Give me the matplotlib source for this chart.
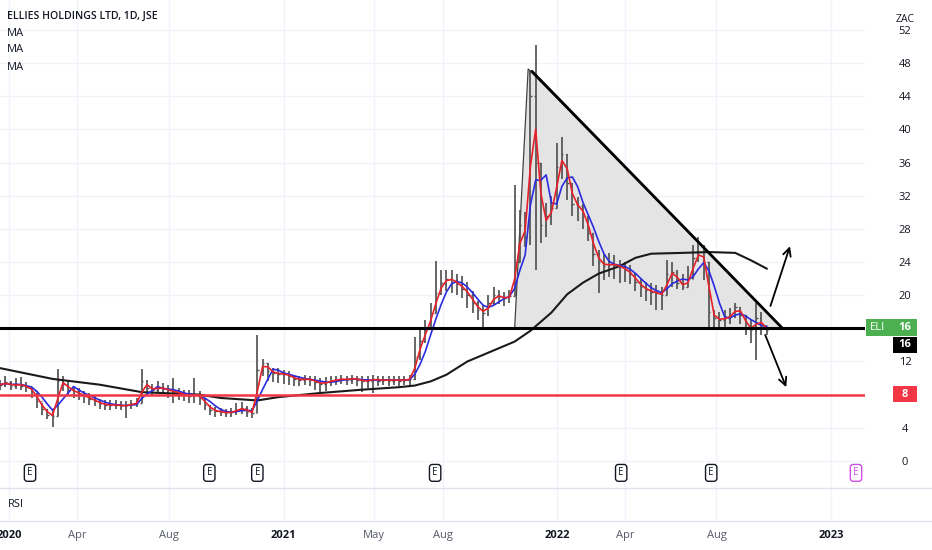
import matplotlib
matplotlib.use("Agg")
import matplotlib.pyplot as plt
import matplotlib.dates as mdates
import matplotlib.transforms as mtransforms
from matplotlib.patches import Rectangle, Polygon
from matplotlib.lines import Line2D
import pandas as pd

plt.rcParams['font.family'] = ['Open Sans', 'DejaVu Sans']

# weekly bars, first bar 2019-12-20
start = "2019-12-20"
close = [
    9.2, 9.5, 9.0, 9.3, 9.1, 8.9, 8.4, 7.2, 6.3, 5.6,
    5.4, 9.6, 9.3, 8.6, 8.4, 8.0, 7.8, 7.5, 7.2, 6.9,
    6.8, 6.7, 6.8, 6.6, 6.7, 6.9, 7.0, 9.6, 8.8, 8.6,
    8.9, 8.7, 8.5, 8.3, 8.2, 7.9, 7.8, 8.1, 7.6, 6.8,
    6.2, 6.0, 5.9, 5.8, 5.9, 6.2, 6.4, 5.9, 5.8, 11.0,
    11.8, 10.9, 10.6, 10.5, 10.5, 10.2, 9.9, 9.8, 9.9, 9.8,
    9.5, 9.3, 9.5, 9.7, 9.8, 9.9, 9.8, 10.0, 9.8, 9.6,
    9.7, 9.9, 9.7, 9.8, 9.7, 9.8, 9.7, 9.8, 9.9, 12.5,
    14.5, 16.0, 17.8, 20.2, 21.5, 22.0, 21.8, 21.3, 20.8, 20.0,
    19.0, 18.2, 17.9, 19.0, 20.0, 19.8, 19.6, 19.9, 24.0, 28.5,
    27.0, 44.0, 36.0, 28.5, 29.5, 30.5, 35.5, 37.0, 33.5, 31.0,
    30.8, 29.5, 27.5, 25.0, 24.0, 23.5, 23.8, 23.6, 23.4, 23.0,
    22.5, 21.6, 21.0, 20.6, 20.4, 20.2, 20.0, 22.5, 22.8, 21.5,
    21.0, 22.0, 24.5, 25.2, 24.0, 18.0, 17.2, 17.0, 17.3, 17.5,
    18.6, 17.6, 16.2, 15.8, 17.2, 16.2, 15.8]
high = [
    9.8, 10.2, 9.6, 10.0, 10.1, 9.5, 8.9, 8.2, 7.0, 6.3,
    6.0, 11.1, 10.2, 9.6, 9.0, 8.8, 8.4, 8.2, 7.8, 7.5,
    7.4, 7.3, 7.3, 7.2, 7.2, 7.4, 7.6, 11.1, 9.8, 9.3,
    9.6, 9.4, 9.2, 10.0, 8.8, 8.6, 8.5, 10.0, 8.4, 7.6,
    6.8, 6.5, 6.4, 6.3, 6.4, 7.0, 7.1, 6.6, 6.4, 15.2,
    12.3, 11.8, 11.2, 11.2, 11.0, 10.8, 10.4, 10.3, 10.4, 10.3,
    10.2, 10.0, 10.1, 10.2, 10.3, 10.4, 10.3, 10.4, 10.3, 10.2,
    10.3, 10.4, 10.2, 10.3, 10.2, 10.3, 10.2, 10.3, 10.4, 15.0,
    16.2, 17.0, 19.0, 24.1, 23.0, 23.0, 23.0, 22.6, 22.3, 21.6,
    20.5, 19.3, 18.8, 20.0, 21.0, 20.6, 20.4, 20.6, 33.3, 30.3,
    30.0, 47.0, 50.2, 36.0, 31.1, 32.0, 38.4, 39.1, 37.0, 33.5,
    31.8, 31.0, 29.5, 27.5, 25.5, 25.0, 25.1, 24.8, 24.2, 24.0,
    23.6, 22.7, 22.0, 21.6, 21.5, 21.2, 21.0, 24.2, 24.0, 23.0,
    22.5, 23.5, 26.0, 27.0, 26.1, 24.0, 18.2, 18.0, 18.2, 18.5,
    19.0, 18.6, 17.6, 17.0, 19.0, 18.0, 16.2]
low = [
    8.6, 8.9, 8.5, 8.7, 8.5, 8.3, 7.6, 6.4, 5.6, 5.1,
    4.1, 5.4, 8.4, 7.9, 7.6, 7.4, 7.0, 6.8, 6.6, 6.3,
    6.2, 6.2, 6.3, 6.1, 5.2, 6.3, 6.5, 7.0, 8.0, 7.9,
    8.3, 8.1, 7.6, 7.0, 7.4, 7.2, 7.0, 7.0, 6.8, 6.2,
    5.6, 5.3, 5.4, 5.3, 5.3, 5.6, 5.7, 5.3, 5.2, 5.8,
    10.2, 9.6, 9.5, 9.4, 9.3, 9.2, 9.1, 9.0, 9.2, 9.0,
    8.5, 8.3, 8.4, 9.1, 9.2, 9.3, 9.2, 9.3, 9.1, 8.3,
    8.8, 8.2, 9.0, 9.2, 9.1, 9.2, 9.1, 9.2, 9.2, 9.8,
    12.2, 14.2, 16.0, 17.8, 20.0, 20.5, 20.3, 20.0, 19.6, 18.5,
    17.8, 17.0, 16.2, 17.5, 18.8, 18.9, 18.7, 19.0, 19.9, 24.0,
    25.8, 26.0, 23.0, 26.3, 27.0, 28.5, 30.5, 34.0, 31.5, 29.5,
    29.0, 28.0, 26.5, 23.5, 20.3, 21.8, 22.2, 22.0, 21.5, 21.6,
    21.3, 20.5, 19.8, 19.3, 18.8, 18.2, 18.2, 20.0, 21.0, 20.8,
    20.6, 21.0, 22.0, 24.0, 21.8, 16.2, 16.0, 16.0, 16.2, 16.5,
    17.2, 16.5, 15.2, 14.2, 12.2, 15.2, 15.2]

# long moving average (black), read at some weeks
ma200_week = [0, 10, 19, 27, 38, 42, 49, 53, 61, 69, 76, 79, 82, 85, 89, 95,
              98, 101, 105, 108, 111, 114, 118, 121, 124, 130, 135, 140, 143, 146]
ma200_val = [11.2, 9.9, 9.2, 8.3, 8.0, 7.6, 7.3, 7.7, 8.2, 8.6, 8.9, 9.1, 9.6, 10.4, 12.0, 13.6,
             14.4, 15.7, 17.9, 20.1, 21.5, 22.6, 23.5, 24.5, 25.0, 25.1, 25.2, 25.1, 24.2, 23.2]

support = 16
target = 8
last_price = 16

# drawings
triangle = [("2021-11-05", 16), ("2021-11-23", 47.3), ("2022-10-28", 16)]
trendline = [("2021-11-28", 47.0), ("2022-10-28", 16)]
arrow_up = [("2022-10-12", 18.7), ("2022-11-07", 25.9)]
arrow_down = [("2022-10-05", 15.2), ("2022-11-02", 8.9)]
earnings = ["2020-01-29", "2020-09-24", "2020-11-27", "2021-07-22",
            "2022-03-27", "2022-07-25"]
earnings_next = "2023-02-03"

tick_dates = ["2020-01-01", "2020-04-01", "2020-08-01", "2021-01-01", "2021-05-01",
              "2021-08-01", "2022-01-01", "2022-04-01", "2022-08-01", "2023-01-01"]
tick_labels = ["2020", "Apr", "Aug", "2021", "May", "Aug", "2022", "Apr", "Aug", "2023"]

dates = pd.date_range(start, periods=len(close), freq="7D")
s_close = pd.Series(close, index=dates)
opens = s_close.shift(1).fillna(s_close.iloc[0])
ma_fast = s_close.rolling(2, min_periods=1).mean()
ma_mid = s_close.rolling(4, min_periods=1).mean()

W, H = 932, 550
fig = plt.figure(figsize=(W / 100, H / 100), dpi=100)
ax = fig.add_axes([0, 62 / H, 865 / W, 488 / H])
ax2 = fig.add_axes([0, 29 / H, 865 / W, 33 / H], sharex=ax)

txt = '#131722'
grid_c = '#f0f3fa'

ax.set_ylim(-3.26, 55.6)
ax.set_xlim(pd.Timestamp("2019-12-20"), pd.Timestamp("2023-02-15"))

# triangle pattern
tri = [(mdates.date2num(pd.Timestamp(d)), v) for d, v in triangle]
ax.add_patch(Polygon(tri, closed=True, fc='#e4e4e4', ec='#444444', lw=0.9, zorder=1))
tl = [pd.Timestamp(d) for d, _ in trendline]
ax.plot(tl, [v for _, v in trendline], color='black', lw=2.0, zorder=5,
        solid_capstyle='round')

# ohlc bars
half = pd.Timedelta(days=2)
bar_c = '#4d4d4d'
ax.vlines(dates, low, high, color=bar_c, lw=1.2, zorder=2)
ax.hlines(opens.values, dates - half, dates, color=bar_c, lw=1.0, zorder=2)
ax.hlines(close, dates, dates + half, color=bar_c, lw=1.0, zorder=2)

# moving averages
ax.plot(dates[ma200_week], ma200_val, color='#1a1a1a', lw=1.5, zorder=3)
ax.plot(dates, ma_mid, color='#2a2ae0', lw=1.2, zorder=3)
ax.plot(dates, ma_fast, color='#e8202a', lw=1.2, zorder=3)

# horizontal levels
ax.axhline(support, color='black', lw=2.2, zorder=4)
ax.axhline(target, color='#f23645', lw=1.8, zorder=4)

for (d0, v0), (d1, v1) in [arrow_up, arrow_down]:
    ax.annotate('', xy=(pd.Timestamp(d1), v1), xytext=(pd.Timestamp(d0), v0),
                arrowprops=dict(arrowstyle='->', color='black', lw=1.3,
                                mutation_scale=14, shrinkA=0, shrinkB=0), zorder=6)

# earnings markers
bt = mtransforms.blended_transform_factory(ax.transData, ax.transAxes)
for d in earnings:
    ax.text(pd.Timestamp(d), 0.031, 'E', transform=bt, ha='center', va='center',
            fontsize=7, color=txt,
            bbox=dict(boxstyle='round,pad=0.3', fc='white', ec='#131722', lw=1.0))
ax.text(pd.Timestamp(earnings_next), 0.031, 'E', transform=bt, ha='center', va='center',
        fontsize=7, color='#d24fe8',
        bbox=dict(boxstyle='round,pad=0.3', fc='white', ec='#d24fe8', lw=1.0))

# axes styling
for a in (ax, ax2):
    for sp in a.spines.values():
        sp.set_visible(False)
yt = list(range(0, 53, 4))
ax.set_yticks(yt)
# the level boxes sit where the 8 and 16 labels would be
ax.set_yticklabels(['' if v in (support, target) else str(v) for v in yt])
ax.yaxis.tick_right()
ax.tick_params(axis='y', length=0, pad=28.8, labelsize=8, labelcolor=txt)
for lab in ax.get_yticklabels():
    lab.set_horizontalalignment('center')
ax.tick_params(axis='x', length=0, labelbottom=False)
ax.grid(True, color=grid_c, lw=1.0, zorder=0)
ax.set_axisbelow(True)

ax2.set_yticks([])
ax2.set_xticks([pd.Timestamp(d) for d in tick_dates])
ax2.set_xticklabels(tick_labels)
ax2.tick_params(axis='x', length=0, pad=6.5, labelsize=8, labelcolor='#555a66')
for lab in ax2.get_xticklabels():
    if lab.get_text().isdigit():
        lab.set_fontweight('bold')
        lab.set_color(txt)
ax2.grid(True, axis='x', color=grid_c, lw=1.0)
ax2.text(0.009, 0.5, 'RSI', transform=ax2.transAxes, va='center', fontsize=8, color=txt)

# pane separators
for yy in (488, 521):
    fig.add_artist(Line2D([0, 1], [1 - yy / H] * 2, color='#e0e3eb', lw=1.0))

# price scale labels
rt = mtransforms.blended_transform_factory(ax.transAxes, ax.transData)
ax.text(1.0462, 53.3, 'ZAC', transform=rt, ha='center', va='center', fontsize=7.5,
        color=txt, clip_on=False)
ax.add_patch(Rectangle((1.001, 15.08), 0.059, 2.05, transform=rt, fc='#4caf50',
                       ec='none', clip_on=False, zorder=10))
ax.text(1.015, 16.1, 'ELI', transform=rt, ha='center', va='center', fontsize=8,
        color='white', clip_on=False, zorder=11)
ax.text(1.0462, 16.1, str(last_price), transform=rt, ha='center', va='center', fontsize=8,
        color='white', fontweight='bold', clip_on=False, zorder=11)
ax.add_patch(Rectangle((1.032, 12.98), 0.028, 1.98, transform=rt, fc='black',
                       ec='none', clip_on=False, zorder=10))
ax.text(1.0462, 14.0, str(support), transform=rt, ha='center', va='center', fontsize=8,
        color='white', fontweight='bold', clip_on=False, zorder=11)
ax.add_patch(Rectangle((1.032, 7.1), 0.028, 1.95, transform=rt, fc='#f23645',
                       ec='none', clip_on=False, zorder=10))
ax.text(1.0462, 8.07, str(target), transform=rt, ha='center', va='center', fontsize=8,
        color='white', fontweight='bold', clip_on=False, zorder=11)

# legend text
fig.text(7 / W, 1 - 16 / H, 'ELLIES HOLDINGS LTD, 1D, JSE', fontsize=7.6,
         fontweight='semibold', color=txt, va='center')
for yy in (33, 50, 68):
    fig.text(7 / W, 1 - yy / H, 'MA', fontsize=8, color=txt, va='center')

fig.savefig('out.png', dpi=100, facecolor='white')
